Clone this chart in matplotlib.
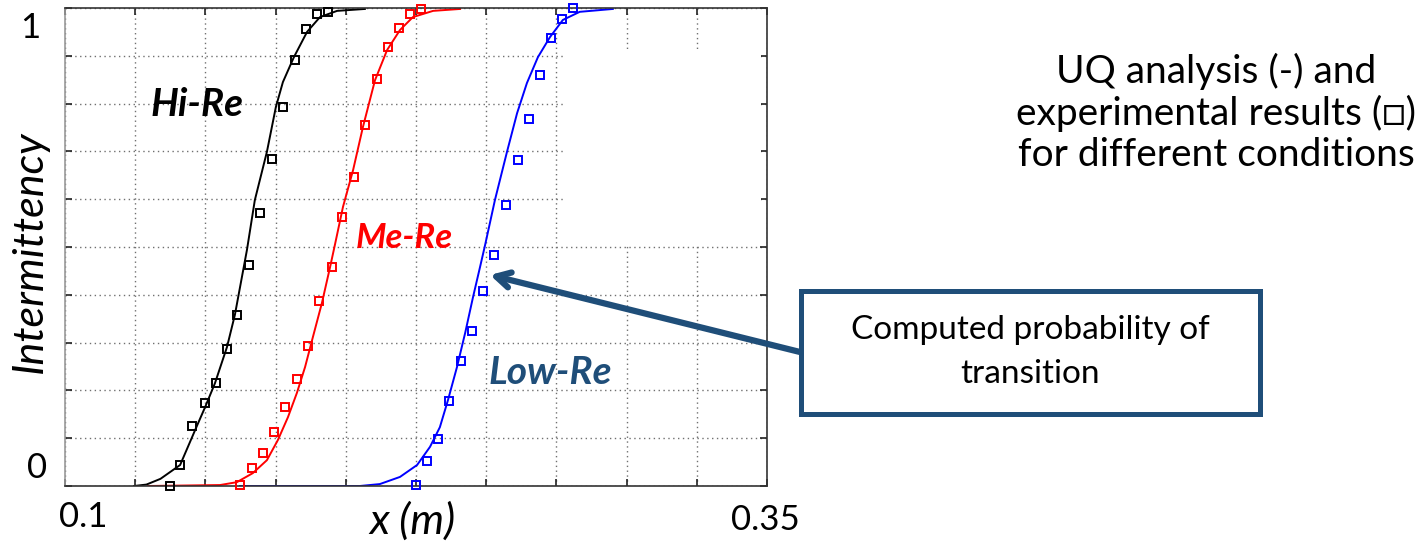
import matplotlib
matplotlib.use("Agg")
import matplotlib.pyplot as plt
from matplotlib.patches import Rectangle

# experimental points (squares)
hi_x = [0.1374, 0.1410, 0.1452, 0.1499, 0.1538, 0.1577, 0.1612, 0.1655, 0.1694,
        0.1737, 0.1776, 0.1819, 0.1858, 0.1897, 0.1936]
hi_y = [0.0, 0.044, 0.126, 0.174, 0.215, 0.287, 0.358, 0.462, 0.571,
        0.684, 0.793, 0.891, 0.956, 0.987, 0.992]
me_x = [0.1623, 0.1666, 0.1705, 0.1744, 0.1783, 0.1826, 0.1865, 0.1904, 0.1951,
        0.1986, 0.2029, 0.2068, 0.2111, 0.2150, 0.2189, 0.2229, 0.2268]
me_y = [0.002, 0.038, 0.069, 0.113, 0.165, 0.224, 0.293, 0.387, 0.458,
        0.563, 0.646, 0.755, 0.851, 0.918, 0.958, 0.987, 0.998]
lo_x = [0.2250, 0.2289, 0.2328, 0.2367, 0.2410, 0.2449, 0.2488, 0.2527, 0.2570,
        0.2613, 0.2652, 0.2691, 0.2730, 0.2769, 0.2809]
lo_y = [0.002, 0.052, 0.098, 0.178, 0.262, 0.324, 0.408, 0.483, 0.588,
        0.682, 0.768, 0.860, 0.937, 0.977, 1.0]

# UQ analysis curves (lines)
hi_lx = [0.1246, 0.1290, 0.1340, 0.1410, 0.1470, 0.1499, 0.1534, 0.1577, 0.1605, 0.1648,
         0.1676, 0.1719, 0.1751, 0.1776, 0.1815, 0.1862, 0.1908, 0.1969, 0.2068]
hi_ly = [0.0, 0.003, 0.015, 0.044, 0.126, 0.165, 0.215, 0.291, 0.358, 0.494,
         0.598, 0.699, 0.793, 0.845, 0.897, 0.950, 0.981, 0.994, 0.998]
me_lx = [0.1296, 0.1552, 0.1612, 0.1669, 0.1719, 0.1758, 0.1794, 0.1826, 0.1855,
         0.1883, 0.1915, 0.1944, 0.1961, 0.1990, 0.2026, 0.2061, 0.2104, 0.2147,
         0.2193, 0.2239, 0.2311, 0.2407]
me_ly = [0.0, 0.002, 0.008, 0.027, 0.054, 0.096, 0.144, 0.195, 0.249,
         0.312, 0.383, 0.458, 0.504, 0.584, 0.661, 0.751, 0.849, 0.912,
         0.954, 0.981, 0.994, 0.998]
lo_lx = [0.1623, 0.2050, 0.2121, 0.2193, 0.2254, 0.2300, 0.2335, 0.2364, 0.2396,
         0.2425, 0.2453, 0.2478, 0.2496, 0.2531, 0.2574, 0.2610, 0.2645, 0.2684,
         0.2727, 0.2773, 0.2833, 0.2951]
lo_ly = [0.0, 0.0, 0.004, 0.019, 0.044, 0.082, 0.123, 0.180, 0.249,
         0.320, 0.395, 0.458, 0.504, 0.598, 0.699, 0.780, 0.843, 0.897,
         0.939, 0.975, 0.992, 0.998]

W, H = 1428, 543
FONT = ["Lato", "DejaVu Sans"]
NAVY = "#1F4E79"

def fx(px):
    return px / W

def fy(py):
    return 1 - py / H

fig = plt.figure(figsize=(W / 100, H / 100), dpi=100)
ax = fig.add_axes([fx(65), fy(486), 702 / W, 478 / H])

ax.plot(hi_lx, hi_ly, color="black", lw=1.4, zorder=2)
ax.plot(me_lx, me_ly, color="red", lw=1.4, zorder=2)
ax.plot(lo_lx, lo_ly, color="blue", lw=1.4, zorder=2)
for xs, ys, c in [(hi_x, hi_y, "black"), (me_x, me_y, "red"), (lo_x, lo_y, "blue")]:
    ax.plot(xs, ys, ls="none", marker="s", ms=5.5, mfc="none", mec=c, mew=1.4,
            zorder=3, clip_on=False)

ax.set_xlim(0.1, 0.35)
ax.set_ylim(0, 1)
ax.set_xticks([0.1 + 0.025 * i for i in range(11)])
ax.set_yticks([0.1 * i for i in range(11)])
ax.set_xticklabels([])
ax.set_yticklabels([])
ax.tick_params(direction="in", length=5, width=1.2, top=True, right=True, color="#222222")
ax.set_axisbelow(True)
ax.grid(True, color="#707070", ls=(0, (1, 2.5)), lw=1.0)
for s in ax.spines.values():
    s.set_color("#333333")
    s.set_linewidth(1.2)
ax.spines["left"].set_color("#999999")

# blank patch where the grid is missing in the original
ax.add_patch(Rectangle((0.2773, 0.504), 0.3479 - 0.2773, 0.912 - 0.504,
                       facecolor="white", edgecolor="none", zorder=1))

# axis labels as slide text
fig.text(fx(30), fy(28), "1", fontsize=25, family=FONT, ha="center", va="center")
fig.text(fx(37), fy(468), "0", fontsize=25, family=FONT, ha="center", va="center")
fig.text(fx(83), fy(517), "0.1", fontsize=25, family=FONT, ha="center", va="center")
fig.text(fx(765), fy(520), "0.35", fontsize=25, family=FONT, ha="center", va="center")
fig.text(fx(412), fy(521), "x (m)", fontsize=31, family=FONT, style="italic",
         ha="center", va="center")
fig.text(fx(30), fy(252), "Intermittency", fontsize=31, family=FONT, style="italic",
         rotation=90, ha="center", va="center")

# curve names
fig.text(fx(197), fy(104), "Hi-Re", fontsize=28, family=FONT, style="italic",
         weight="bold", color="black", ha="center", va="center")
fig.text(fx(404), fy(238), "Me-Re", fontsize=25, family=FONT, style="italic",
         weight="bold", color="red", ha="center", va="center")
fig.text(fx(550), fy(373), "Low-Re", fontsize=28, family=FONT, style="italic",
         weight="bold", color=NAVY, ha="center", va="center")

# right-hand note
fig.text(fx(1216), fy(113), "UQ analysis (-) and\nexperimental results (\u25a1)\nfor different conditions",
         fontsize=28, family=FONT, ha="center", va="center", linespacing=1.18)

# callout box and arrow
fig.add_artist(Rectangle((fx(800.5), fy(413.5)), 459 / W, 123 / H, transform=fig.transFigure,
                         facecolor="white", edgecolor=NAVY, lw=3.6, zorder=4))
fig.text(fx(1030), fy(352), "Computed probability of\ntransition", fontsize=24, family=FONT,
         ha="center", va="center", linespacing=1.55, zorder=5)
ax.annotate("", xy=(fx(490), fy(275)), xycoords="figure fraction",
            xytext=(fx(800), fy(352)), textcoords="figure fraction",
            arrowprops=dict(arrowstyle="->,head_length=1.0,head_width=0.55",
                            color=NAVY, lw=4.5, shrinkA=0, shrinkB=0),
            annotation_clip=False)

fig.savefig("out.png", dpi=100)
